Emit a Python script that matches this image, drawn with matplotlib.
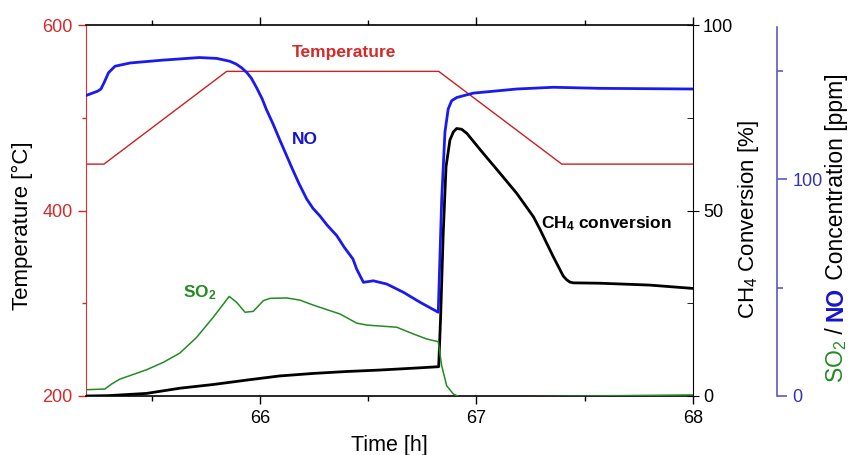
import matplotlib
matplotlib.use("Agg")
import matplotlib.pyplot as plt
from matplotlib.ticker import FixedLocator

plt.rcParams['font.family'] = ['Liberation Sans', 'DejaVu Sans']
plt.rcParams['mathtext.fontset'] = 'custom'
plt.rcParams['mathtext.rm'] = 'Liberation Sans'
plt.rcParams['mathtext.bf'] = 'Liberation Sans:bold'
plt.rcParams['mathtext.default'] = 'regular'

# ---- data ----
temp_t = [65.196, 65.279, 65.846, 66.826, 67.395, 68.0]
temp_v = [450, 450, 550, 550, 450, 450]

no_t = [65.196, 65.25, 65.265, 65.28, 65.30, 65.33, 65.40, 65.55, 65.72, 65.80,
        65.86, 65.89, 65.915, 65.94, 65.96, 65.985, 66.01, 66.03, 66.06, 66.09,
        66.12, 66.15, 66.18, 66.216, 66.245, 66.277, 66.31, 66.355, 66.39, 66.43,
        66.447, 66.478, 66.524, 66.586, 66.663, 66.74, 66.824, 66.84, 66.855, 66.87,
        66.886, 66.91, 66.986, 67.187, 67.356, 67.57, 68.0]
no_v = [138.5, 140.5, 141.5, 144.5, 149.0, 152.0, 153.5, 154.8, 156.0, 155.6,
        154.3, 153.0, 151.3, 149.0, 146.5, 142.0, 137.0, 132.0, 125.5, 118.4,
        111.5, 104.6, 98.0, 90.8, 86.5, 83.0, 78.8, 73.9, 68.5, 63.1,
        58.5, 52.4, 53.1, 51.6, 47.8, 43.2, 38.6, 90.8, 121.7, 132.3,
        136.1, 137.6, 139.6, 141.5, 142.3, 141.8, 141.5]

so2_t = [65.196, 65.283, 65.314, 65.353, 65.399, 65.476, 65.553, 65.630, 65.707, 65.784,
         65.858, 65.892, 65.931, 65.969, 66.015, 66.046, 66.123, 66.185, 66.246, 66.37,
         66.447, 66.493, 66.632, 66.709, 66.77, 66.824, 66.84, 66.863, 66.894, 66.925,
         67.0, 67.5, 68.0]
so2_v = [2.9, 3.2, 5.5, 7.8, 9.4, 12.1, 15.5, 19.8, 27.0, 36.3,
         45.9, 43.2, 38.6, 39.0, 43.9, 45.0, 45.2, 44.2, 41.9, 37.8,
         33.6, 32.7, 31.7, 28.6, 26.3, 25.0, 13.9, 4.7, 0.9, -0.5,
         -0.6, 0.0, 0.5]

ch4_t = [65.196, 65.30, 65.476, 65.63, 65.784, 65.94, 66.09, 66.25, 66.40, 66.555,
         66.71, 66.826, 66.835, 66.847, 66.86, 66.878, 66.894, 66.909, 66.932, 66.956,
         67.032, 67.11, 67.187, 67.264, 67.2945, 67.325, 67.356, 67.387, 67.402, 67.418,
         67.433, 67.448, 67.57, 67.80, 68.0]
ch4_v = [0.0, 0.1, 0.7, 2.1, 3.1, 4.3, 5.4, 6.1, 6.6, 7.0,
         7.5, 7.9, 21.4, 43.8, 61.8, 69.0, 71.2, 72.1, 71.9, 70.8,
         65.4, 60.0, 54.6, 48.3, 44.9, 41.2, 37.5, 34.0, 32.3, 31.3,
         30.7, 30.5, 30.4, 29.9, 29.0]

x_major = [66, 67, 68]
x_minor = [65.5, 66.5, 67.5]
temp_major = [200, 400, 600]
temp_minor = [300, 500]
conv_major = [0, 50, 100]
conv_minor = [25, 75]
ppm_major = [0, 100]
ppm_minor = [50, 150]

RED = '#d42a2a'
RED_LINE = '#cc2020'
BLUE = '#1a1aee'
BLUE_AX = '#5a5ac8'
BLUE_TXT = '#3434b0'
GREEN = '#228b22'

W, H = 851, 455
fig = plt.figure(figsize=(W / 100, H / 100), dpi=100)
L, R, B, T = 86, 692.7, 59, 430
ax = fig.add_axes([L / W, B / H, (R - L) / W, (T - B) / H])
ax2 = ax.twinx()
ax3 = ax.twinx()

# temperature axis
ax.plot(temp_t, temp_v, color=RED_LINE, lw=1.0)
ax.set_xlim(65.196, 68)
ax.set_ylim(200, 600)
ax.xaxis.set_major_locator(FixedLocator(x_major))
ax.xaxis.set_minor_locator(FixedLocator(x_minor))
ax.yaxis.set_major_locator(FixedLocator(temp_major))
ax.yaxis.set_minor_locator(FixedLocator(temp_minor))
ax.tick_params(axis='x', which='both', direction='out', top=True, labelsize=13, pad=4, width=1)
ax.tick_params(axis='x', which='major', length=6)
ax.tick_params(axis='x', which='minor', length=3.5)
ax.tick_params(axis='y', which='both', direction='out', colors=RED, labelsize=13, pad=4, width=1)
ax.tick_params(axis='y', which='major', length=5.5)
ax.tick_params(axis='y', which='minor', length=3)
ax.spines['left'].set_color('#e03030')
ax.spines['right'].set_visible(False)
for s in ('top', 'bottom'):
    ax.spines[s].set_linewidth(1.2)
ax.set_xlabel('Time [h]', fontsize=15.5, labelpad=6)
ax.set_ylabel('Temperature [°C]', fontsize=16, color='black')
ax.yaxis.set_label_coords(-53 / (R - L), (396 - 226) / (T - B))

# methane conversion axis
ax2.plot(ch4_t, ch4_v, color='black', lw=2.0)
ax2.set_ylim(0, 100)
ax2.yaxis.set_major_locator(FixedLocator(conv_major))
ax2.yaxis.set_minor_locator(FixedLocator(conv_minor))
ax2.tick_params(axis='y', which='major', direction='inout', length=9, labelsize=13, pad=3)
ax2.tick_params(axis='y', which='minor', direction='in', length=4)
for s in ('left', 'top', 'bottom'):
    ax2.spines[s].set_visible(False)
ax2.set_ylabel('CH$_4$ Conversion [%]', fontsize=16)
ax2.yaxis.set_label_coords((736 - L) / (R - L), (396 - 219) / (T - B))

# SO2 / NO concentration axis
ax3.plot(so2_t, so2_v, color=GREEN, lw=1.1)
ax3.plot(no_t, no_v, color=BLUE, lw=2.0)
ax3.set_ylim(0, 171)
ax3.spines['right'].set_position(('axes', (777.3 - L) / (R - L)))
ax3.spines['right'].set_bounds(0, 170)
ax3.spines['right'].set_color(BLUE_AX)
ax3.spines['right'].set_linewidth(1.2)
for s in ('left', 'top', 'bottom'):
    ax3.spines[s].set_visible(False)
ax3.yaxis.set_major_locator(FixedLocator(ppm_major))
ax3.yaxis.set_minor_locator(FixedLocator(ppm_minor))
ax3.tick_params(axis='y', which='both', direction='out', color=BLUE_AX, labelcolor=BLUE_TXT,
                labelsize=13, pad=4, width=1.2)
ax3.tick_params(axis='y', which='major', length=7)
ax3.tick_params(axis='y', which='minor', length=4)

# curve labels
ax.text(66.39, 570, 'Temperature', color=RED, fontsize=12.5, fontweight='bold',
        ha='center', va='center')
ax3.text(66.208, 118, 'NO', color='#1515cc', fontsize=12.5, fontweight='bold',
         ha='center', va='center')
ax3.text(65.645, 47.5, 'SO$_2$', color=GREEN, fontsize=12.5, fontweight='bold',
         ha='left', va='center')
ax2.text(67.603, 46.5, 'CH$_4$ conversion', color='black', fontsize=12.5, fontweight='bold',
         ha='center', va='center')

# multicolour label for the concentration axis, stacked bottom-to-top
fig.canvas.draw()
renderer = fig.canvas.get_renderer()
pieces = [('SO$_2$', GREEN, 'normal'), (' / ', 'black', 'normal'),
          ('NO', '#1515cc', 'bold'), (' Concentration [ppm]', 'black', 'normal')]
x_px, y_px = 843, 455 - 383
for txt, col, wt in pieces:
    t = fig.text(x_px / W, y_px / H, txt, color=col, fontsize=16.5, fontweight=wt,
                 rotation=90, rotation_mode='anchor', ha='left', va='baseline')
    y_px += t.get_window_extent(renderer).height

fig.savefig('out.png', dpi=100)
